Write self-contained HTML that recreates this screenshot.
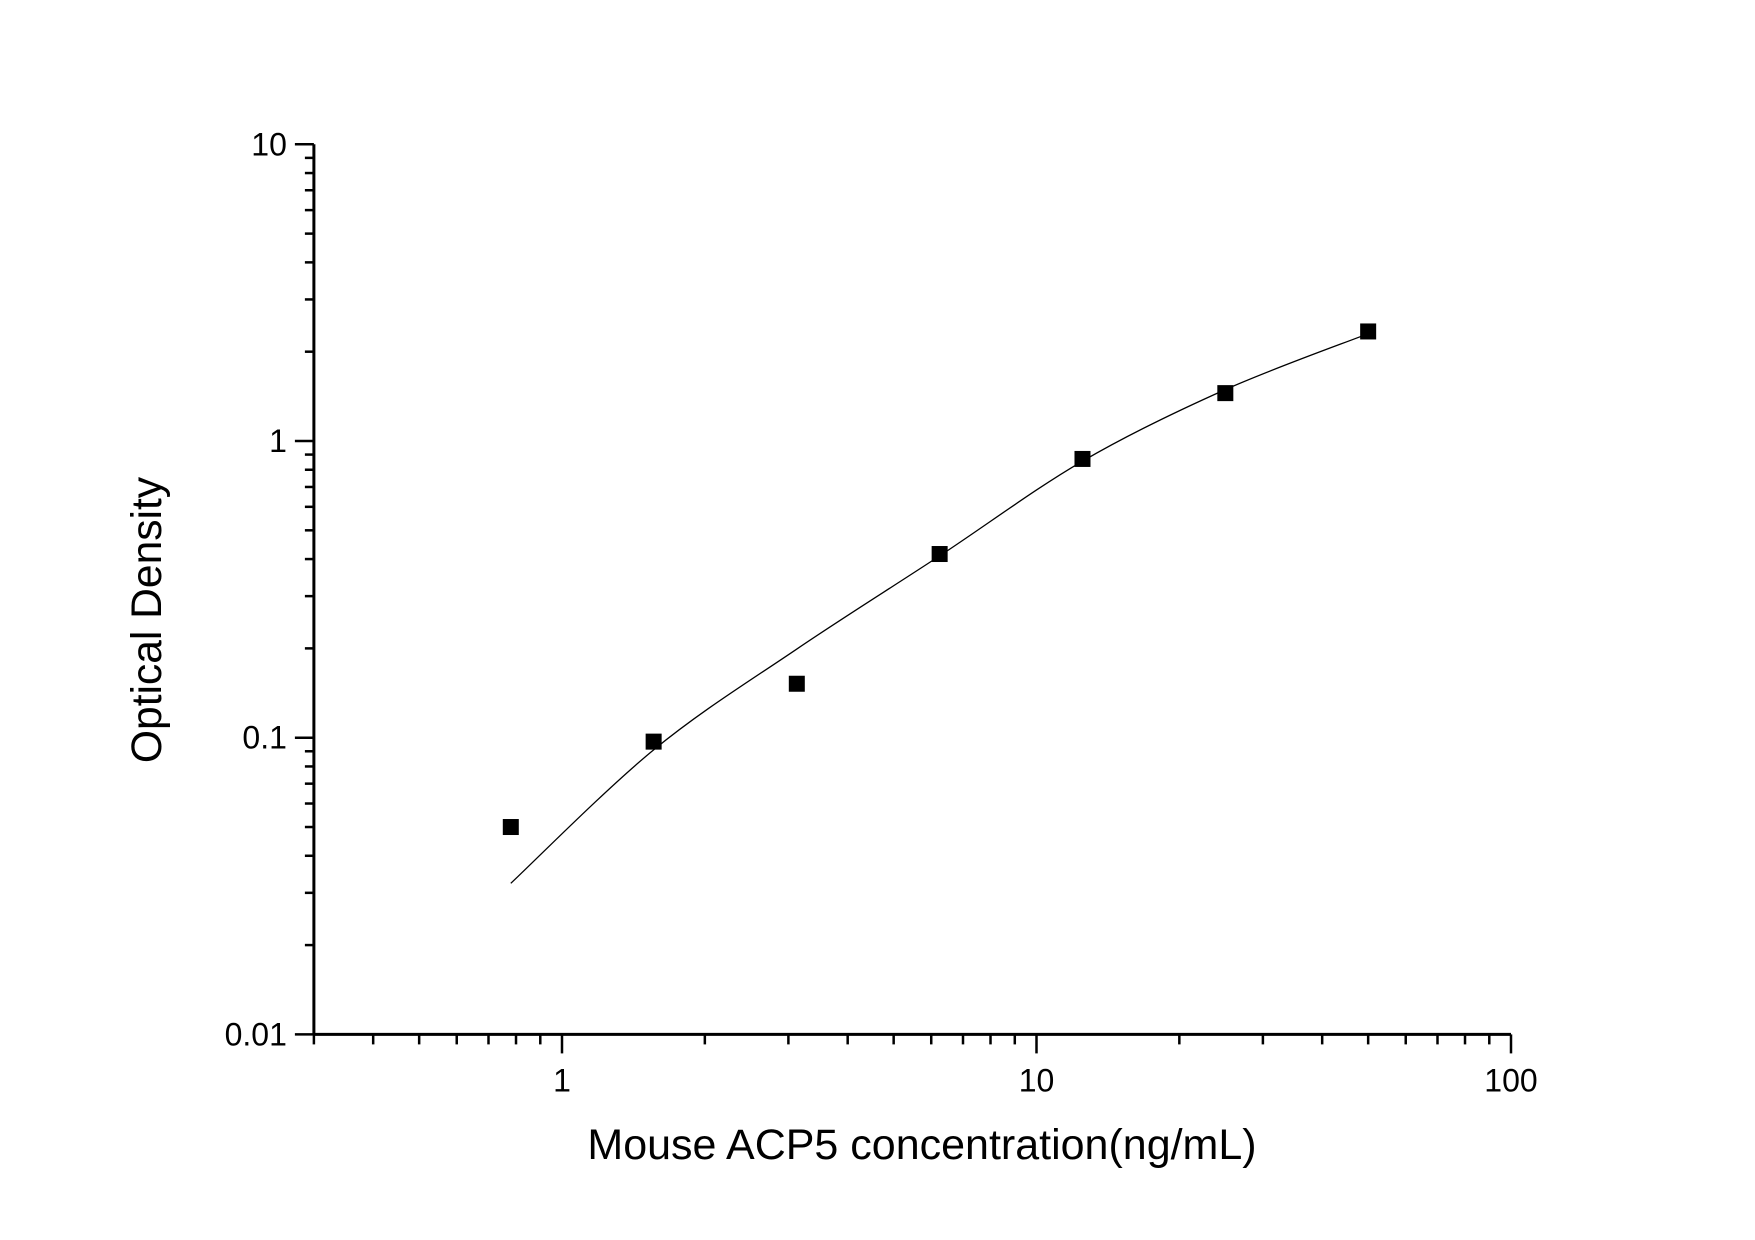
<!DOCTYPE html>
<html><head><meta charset="utf-8"><style>
html,body{margin:0;padding:0;background:#fff;}
svg{display:block;font-family:"Liberation Sans",Arial,sans-serif;}
</style></head><body>
<svg id="chart" width="1755" height="1240" viewBox="0 0 1755 1240" xmlns="http://www.w3.org/2000/svg">
<g id="axes"></g>
<path id="fit" fill="none" stroke="#000" stroke-width="1.3"/>
<g id="pts"></g>
<text x="922" y="1159" font-size="43" text-anchor="middle" transform="translate(922,1159) scale(1.0,1) translate(-922,-1159)">Mouse ACP5 concentration(ng/mL)</text>
<text x="0" y="0" font-size="43" text-anchor="middle" transform="translate(161,620) rotate(-90) scale(0.99,1)">Optical Density</text>
</svg>
<script>
const concentrations=[0.78,1.56,3.125,6.25,12.5,25,50];
const odValues=[0.050,0.097,0.152,0.416,0.87,1.45,2.34];
const curveConc=[0.78,1.56,3.125,6.25,12.5,25,50];
const curveOD=[0.0323,0.091,0.199,0.41,0.855,1.49,2.30];
const xTickLabels=["1","10","100"];
const yTickLabels=["0.01","0.1","1","10"];

const NS="http://www.w3.org/2000/svg";
const X0=562, XD=474.5, Y0=441, YD=296.7;
const xs=v=>X0+XD*Math.log10(v);
const ys=v=>Y0-YD*Math.log10(v);
function mk(tag,attrs,parent){const e=document.createElementNS(NS,tag);for(const k in attrs)e.setAttribute(k,attrs[k]);parent.appendChild(e);return e;}
const axes=document.getElementById('axes');
const L=xs(0.3), R=xs(100), B=ys(0.01), T=ys(10);
let a=mk('line',{x1:L,y1:B,x2:R,y2:B,stroke:'#000','stroke-width':3},axes);


a=mk('line',{x1:L,y1:B,x2:L,y2:T,stroke:'#000','stroke-width':3},axes);


for(let d=-1;d<=1;d++){for(let m=1;m<=9;m++){const v=m*Math.pow(10,d);if(v<0.3-1e-9)continue;
 const x=xs(v);const t=mk('line',{x1:x,y1:B,x2:x,y2:B+(m===1?19:10),stroke:'#000','stroke-width':2.5},axes);
 
 }}
{const x=xs(100);const t=mk('line',{x1:x,y1:B,x2:x,y2:B+19,stroke:'#000','stroke-width':2.5},axes);
 
 }
xTickLabels.forEach(s=>{const t=mk('text',{x:xs(parseFloat(s)),y:B+57,'font-size':32,'text-anchor':'middle'},axes);t.textContent=s;
 
 });
for(let d=-2;d<=0;d++){for(let m=1;m<=9;m++){const v=m*Math.pow(10,d);const y=ys(v);
 const t=mk('line',{x1:L,y1:y,x2:L-(m===1?19:9),y2:y,stroke:'#000','stroke-width':2.5},axes);
 
 }}
{const y=ys(10);const t=mk('line',{x1:L,y1:y,x2:L-19,y2:y,stroke:'#000','stroke-width':2.5},axes);
 
 }
yTickLabels.forEach(s=>{const t=mk('text',{x:L-27,y:ys(parseFloat(s))+11,'font-size':32,'text-anchor':'end'},axes);t.textContent=s;
 
 });
const P=curveConc.map((c,i)=>[xs(c),ys(curveOD[i])]);
let d=`M${P[0][0]},${P[0][1]}`;
for(let i=0;i<P.length-1;i++){const p0=P[Math.max(0,i-1)],p1=P[i],p2=P[i+1],p3=P[Math.min(P.length-1,i+2)];
 d+=` C${p1[0]+(p2[0]-p0[0])/6},${p1[1]+(p2[1]-p0[1])/6} ${p2[0]-(p3[0]-p1[0])/6},${p2[1]-(p3[1]-p1[1])/6} ${p2[0]},${p2[1]}`;}
document.getElementById('fit').setAttribute('d',d);
const pts=document.getElementById('pts');
concentrations.forEach((c,i)=>{const r=mk('rect',{x:xs(c)-8,y:ys(odValues[i])-8,width:16,height:16,fill:'#000'},pts);
 
 });
</script>
</body></html>
